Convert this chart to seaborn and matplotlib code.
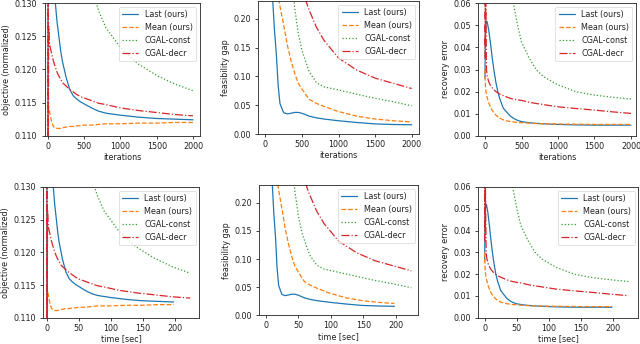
import numpy as np
import pandas as pd
import matplotlib
matplotlib.use("Agg")
import matplotlib.pyplot as plt
import seaborn as sns
from matplotlib.ticker import FormatStrFormatter, MultipleLocator

# ---------------- data ----------------
methods = ["Last (ours)", "Mean (ours)", "CGAL-const", "CGAL-decr"]

iters = [0, 2, 5, 10, 20, 30, 50, 75, 100, 125, 150, 175, 200, 250, 300, 350,
         400, 450, 500, 600, 700, 800, 1000, 1250, 1500, 1750, 2000]

# wall-clock time (sec) at the same iteration counts
time_ours = [0, 0.2, 0.5, 1.0, 2.0, 3.0, 5.0, 7.4, 9.9, 12.4, 14.9, 17.3, 19.8,
             24.8, 29.7, 34.7, 39.6, 44.6, 49.5, 59.4, 69.3, 79.2, 99.0, 123.8,
             148.5, 173.3, 198.0]
time_cgal = [0, 0.2, 0.6, 1.1, 2.2, 3.4, 5.6, 8.4, 11.2, 14.0, 16.8, 19.6, 22.4,
             28.0, 33.6, 39.2, 44.8, 50.4, 56.0, 67.2, 78.4, 89.6, 112.0, 140.0,
             168.0, 196.0, 224.0]

obj_last = [0.100, 0.180, 0.175, 0.168, 0.158, 0.150, 0.140, 0.1345, 0.1302, 0.1272,
            0.1250, 0.1228, 0.1212, 0.1188, 0.1170, 0.1160, 0.1155, 0.1151, 0.1148,
            0.1142, 0.1137, 0.1134, 0.1131, 0.1128, 0.1126, 0.1125, 0.1124]
obj_mean = [0.100, 0.1149, 0.1146, 0.1142, 0.1137, 0.1131, 0.1121, 0.1114, 0.1112,
            0.1111, 0.1111, 0.1111, 0.1112, 0.1113, 0.1114, 0.1114, 0.1115, 0.1115,
            0.1116, 0.1116, 0.1117, 0.1118, 0.1118, 0.1119, 0.1119, 0.1120, 0.1120]
obj_const = [0.60, 0.58, 0.55, 0.50, 0.45, 0.40, 0.33, 0.28, 0.25, 0.23, 0.215, 0.20,
             0.19, 0.175, 0.163, 0.155, 0.148, 0.142, 0.1375, 0.1325, 0.1288, 0.1263,
             0.1233, 0.1208, 0.1191, 0.1178, 0.1168]
obj_decr = [0.100, 0.145, 0.108, 0.1265, 0.1240, 0.1234, 0.1224, 0.1213, 0.1204,
            0.1196, 0.1190, 0.1185, 0.1180, 0.1175, 0.1170, 0.1166, 0.1162, 0.1159,
            0.1157, 0.1153, 0.1149, 0.1147, 0.1142, 0.1138, 0.1135, 0.1132, 0.1130]

feas_last = [0.90, 0.85, 0.80, 0.75, 0.65, 0.55, 0.42, 0.31, 0.235, 0.180, 0.140,
             0.085, 0.053, 0.037, 0.035, 0.036, 0.0375, 0.0375, 0.036, 0.031, 0.028,
             0.026, 0.023, 0.020, 0.0175, 0.0165, 0.016]
feas_mean = [1.50, 1.40, 1.30, 1.20, 1.00, 0.85, 0.65, 0.48, 0.38, 0.31, 0.27, 0.240,
             0.222, 0.190, 0.155, 0.128, 0.106, 0.088, 0.078, 0.060, 0.053, 0.048,
             0.039, 0.031, 0.026, 0.023, 0.021]
feas_const = [3.0, 2.9, 2.8, 2.6, 2.3, 2.0, 1.6, 1.3, 1.1, 0.95, 0.85, 0.75, 0.65,
              0.52, 0.40, 0.29, 0.22, 0.175, 0.145, 0.108, 0.089, 0.082, 0.0765,
              0.069, 0.062, 0.056, 0.049]
feas_decr = [4.0, 3.9, 3.8, 3.6, 3.2, 2.9, 2.4, 1.9, 1.6, 1.35, 1.15, 1.0, 0.9, 0.7,
             0.55, 0.44, 0.36, 0.30, 0.250, 0.215, 0.185, 0.163, 0.132, 0.111,
             0.097, 0.088, 0.079]

rec_last = [0.026, 0.040, 0.046, 0.050, 0.052, 0.0515, 0.048, 0.042, 0.035, 0.029,
            0.024, 0.020, 0.017, 0.0125, 0.0106, 0.0088, 0.0077, 0.0069, 0.0064,
            0.0059, 0.0056, 0.0054, 0.0051, 0.0049, 0.0048, 0.0048, 0.0048]
rec_mean = [0.030, 0.025, 0.023, 0.021, 0.0185, 0.0172, 0.0150, 0.0130, 0.0114,
            0.0102, 0.0093, 0.0086, 0.0080, 0.0072, 0.0067, 0.0064, 0.0062, 0.0060,
            0.0059, 0.0057, 0.0055, 0.0054, 0.0053, 0.0052, 0.0051, 0.0051, 0.0051]
rec_const = [0.50, 0.48, 0.46, 0.43, 0.39, 0.35, 0.29, 0.23, 0.19, 0.16, 0.14, 0.125,
             0.112, 0.093, 0.079, 0.068, 0.058, 0.0495, 0.0425, 0.0355, 0.0300,
             0.0268, 0.0230, 0.0199, 0.0184, 0.0174, 0.0166]
rec_decr = [0.035, 0.065, 0.040, 0.062, 0.030, 0.027, 0.0245, 0.0228, 0.0216, 0.0207,
            0.0200, 0.0194, 0.0189, 0.0182, 0.0175, 0.0169, 0.0165, 0.0162, 0.0160,
            0.0152, 0.0146, 0.0141, 0.0131, 0.0123, 0.0116, 0.0108, 0.0101]

# ---------------- style ----------------
sns.set_style("ticks")
FS = 5.8
plt.rcParams.update({
    "font.family": ["DejaVu Sans"],
    "font.size": FS,
    "axes.linewidth": 0.65,
    "axes.edgecolor": "#333333",
    "xtick.major.size": 2.2,
    "ytick.major.size": 2.2,
    "xtick.major.width": 0.6,
    "ytick.major.width": 0.6,
    "xtick.major.pad": 2.0,
    "ytick.major.pad": 3.0,
    "xtick.color": "#222222",
    "ytick.color": "#222222",
    "text.color": "#222222",
    "axes.labelcolor": "#222222",
})

colors = ["#1f77b4", "#ff7f0e", "#2ca02c", "#d62728"]
styles = ["-", "--", ":", "-."]

fig = plt.figure(figsize=(6.4, 3.44), dpi=100)
W, H = 640.0, 344.0

def add_ax(x0, x1, y0, y1):
    return fig.add_axes([x0 / W, (H - y1) / H, (x1 - x0) / W, (y1 - y0) / H])

boxes = [
    (44.5, 199.5, 3.3, 135.7), (258.0, 419.0, 1.0, 134.0), (478.3, 636.0, 3.3, 135.7),
    (43.0, 199.3, 187.0, 317.7), (259.3, 418.5, 185.3, 315.3), (478.3, 638.3, 187.0, 317.7),
]
metrics = [
    ([obj_last, obj_mean, obj_const, obj_decr], "objective (normalized)", (0.110, 0.130), 0.005, "%.3f"),
    ([feas_last, feas_mean, feas_const, feas_decr], "feasibility gap", (0.0, 0.231), 0.05, "%.2f"),
    ([rec_last, rec_mean, rec_const, rec_decr], "recovery error", (0.0, 0.06), 0.01, "%.2f"),
]
xlims_iter = [(-48, 2090), (-100, 2100), (-92, 2069)]
xlims_time = [(-6, 238), (-10, 235), (-10, 239)]

for row in range(2):
    for col in range(3):
        ax = add_ax(*boxes[row * 3 + col])
        series, ylab, ylim, ystep, fmt = metrics[col]
        for i, (name, vals) in enumerate(zip(methods, series)):
            if row == 0:
                xs = iters
            else:
                xs = time_ours if i < 2 else time_cgal
            df = pd.DataFrame({"x": xs, "y": vals})
            sns.lineplot(data=df, x="x", y="y", ax=ax, color=colors[i],
                         linestyle=styles[i], linewidth=0.9, label=name,
                         estimator=None, sort=False)
        ax.set_ylim(*ylim)
        ax.yaxis.set_major_locator(MultipleLocator(ystep))
        ax.yaxis.set_major_formatter(FormatStrFormatter(fmt))
        if row == 0:
            ax.set_xlim(*xlims_iter[col])
            ax.set_xticks([0, 500, 1000, 1500, 2000])
            ax.set_xlabel("iterations", fontsize=FS, labelpad=1.5)
        else:
            ax.set_xlim(*xlims_time[col])
            ax.set_xticks([0, 50, 100, 150, 200])
            ax.set_xlabel("time [sec]", fontsize=FS, labelpad=1.5)
        ax.set_ylabel(ylab, fontsize=FS, labelpad=2.5)
        ax.tick_params(labelsize=FS)
        for s in ax.spines.values():
            s.set_visible(True)
        leg = ax.legend(loc="upper right", fontsize=FS, frameon=True,
                        borderaxespad=0.45, handlelength=2.0)
        leg.get_frame().set_linewidth(0.5)
        leg.get_frame().set_edgecolor("#cccccc")

fig.savefig("out.png", dpi=100)
